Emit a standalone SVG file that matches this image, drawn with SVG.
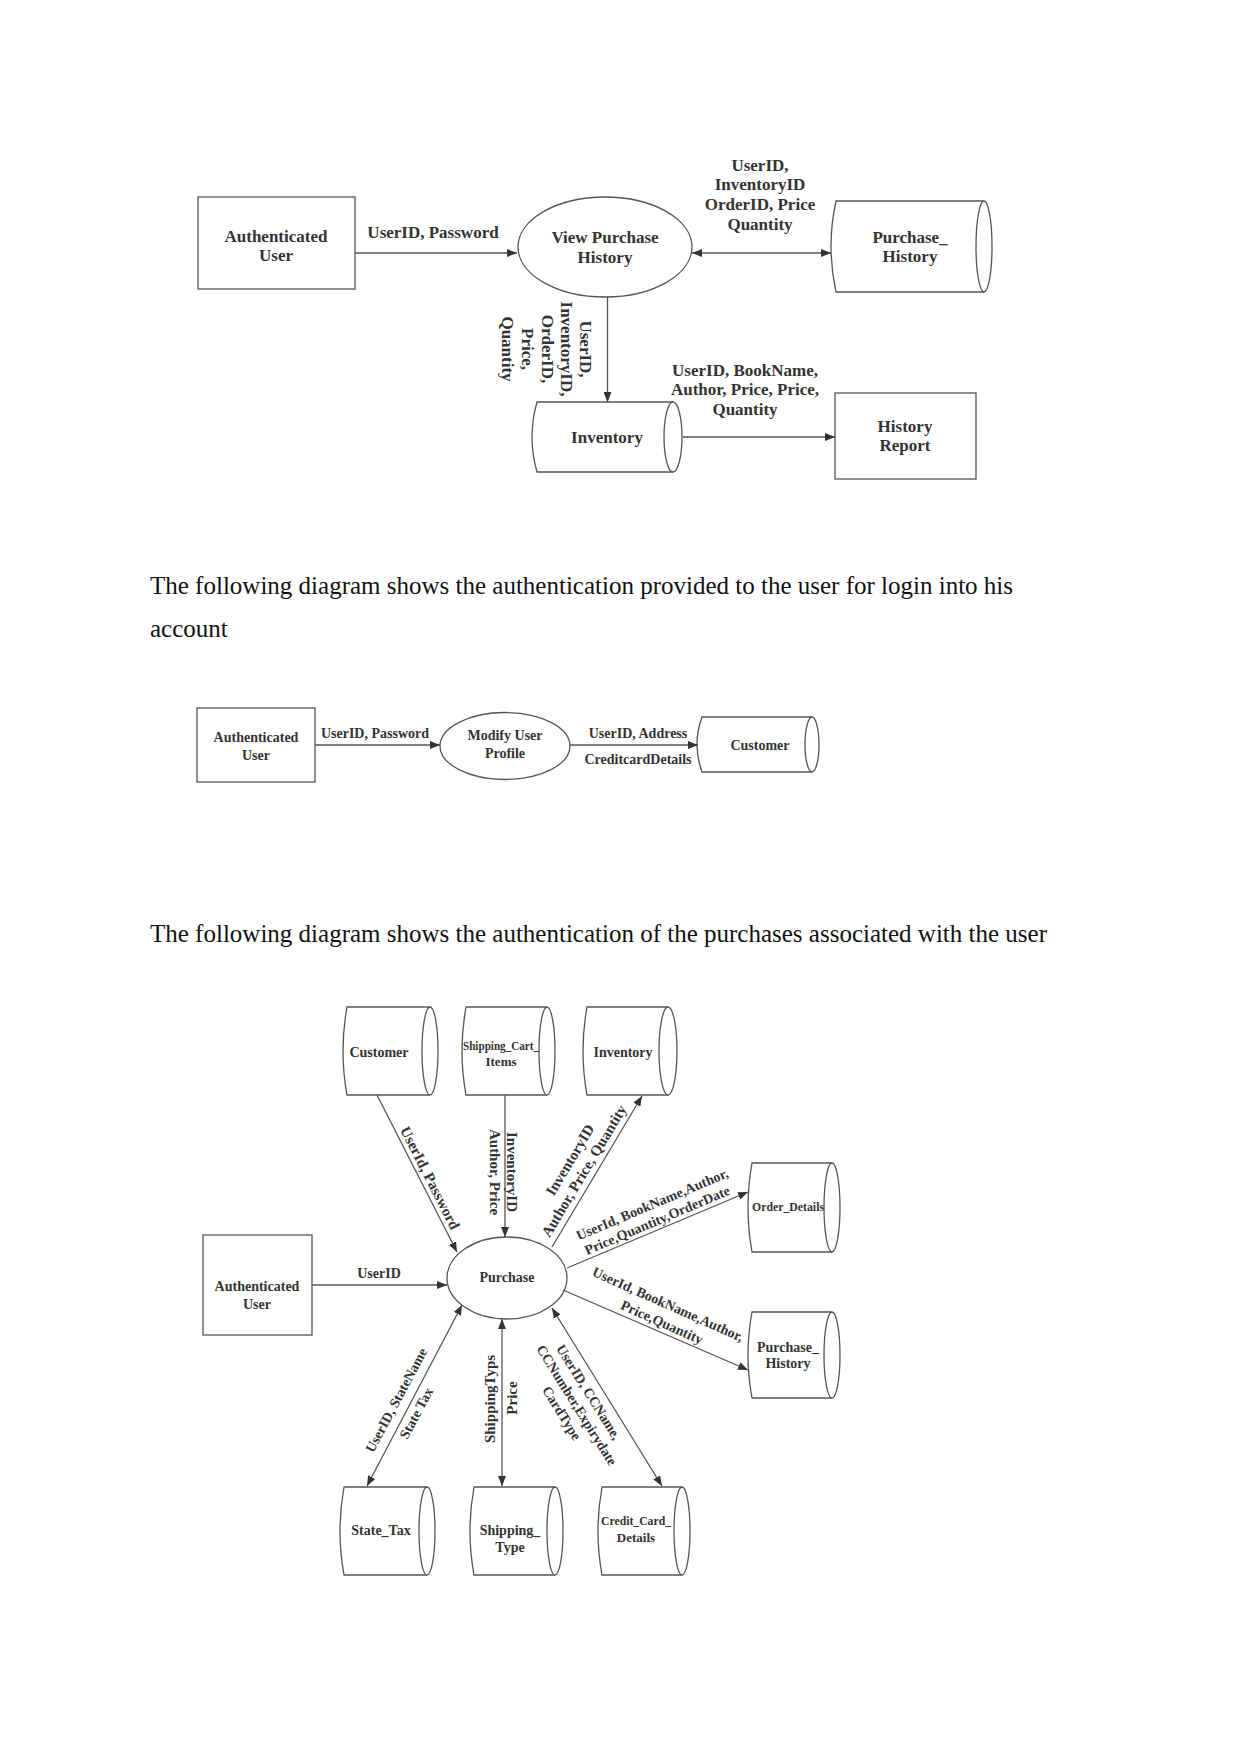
<svg xmlns="http://www.w3.org/2000/svg" width="1241" height="1754" viewBox="0 0 1241 1754">
<defs>
<style>
.bg{fill:#fff}
.n{fill:#fff;stroke:#555;stroke-width:1.3}
.c{fill:none;stroke:#555;stroke-width:1.3}
.t{font-family:"Liberation Serif","Times New Roman",serif;font-weight:bold;fill:#333;text-anchor:middle}
.f17{font-size:17px}
.f14{font-size:14px}
.f15{font-size:15px}
.f12{font-size:12px}
.f13{font-size:13px}
.p{font-family:"Liberation Serif","Times New Roman",serif;font-size:25px;fill:#111}
</style>
<marker id="ah" viewBox="0 0 10 8" refX="10" refY="4" markerWidth="10" markerHeight="8" markerUnits="userSpaceOnUse" orient="auto-start-reverse">
<path d="M0,0 L10,4 L0,8 z" fill="#333"/>
</marker>
</defs>
<rect class="bg" x="0" y="0" width="1241" height="1754"/>

<!-- Diagram 1 -->
<g id="d1-auth">
<rect class="n" x="198" y="197" width="157" height="92"/>
<text class="t f17" x="276" y="242">Authenticated</text>
<text class="t f17" x="276" y="261">User</text>
</g>
<g id="d1-view">
<ellipse class="n" cx="605" cy="247" rx="87" ry="50"/>
<text class="t f17" x="605" y="243">View Purchase</text>
<text class="t f17" x="605" y="263">History</text>
</g>
<g id="d1-purchase-history">
<path class="n" d="M984,201 H836 Q826,246.5 836,292 H984"/>
<ellipse class="n" cx="984" cy="246.5" rx="8" ry="45.5"/>
<text class="t f17" x="910" y="243">Purchase_</text>
<text class="t f17" x="910" y="262">History</text>
</g>
<g id="d1-inventory">
<path class="n" d="M673,402 H537 Q527,437 537,472 H673"/>
<ellipse class="n" cx="673" cy="437" rx="9" ry="35"/>
<text class="t f17" x="607" y="443">Inventory</text>
</g>
<g id="d1-report">
<rect class="n" x="835" y="393" width="141" height="86"/>
<text class="t f17" x="905" y="432">History</text>
<text class="t f17" x="905" y="451">Report</text>
</g>
<g id="d1-connectors">
<line class="c" x1="355" y1="253" x2="517" y2="253" marker-end="url(#ah)"/>
<line class="c" x1="692" y1="253" x2="831" y2="253" marker-start="url(#ah)" marker-end="url(#ah)"/>
<line class="c" x1="607.5" y1="297" x2="607.5" y2="402" marker-end="url(#ah)"/>
<line class="c" x1="683" y1="437" x2="835" y2="437" marker-end="url(#ah)"/>
<text class="t f17" x="433" y="238">UserID, Password</text>
<text class="t f17" x="760" y="171">UserID,</text>
<text class="t f17" x="760" y="190">InventoryID</text>
<text class="t f17" x="760" y="210">OrderID, Price</text>
<text class="t f17" x="760" y="230">Quantity</text>
<text class="t f17" transform="translate(580,349) rotate(90)" x="0" y="0">UserID,</text>
<text class="t f17" transform="translate(561,349) rotate(90)" x="0" y="0">InventoryID,</text>
<text class="t f17" transform="translate(542,349) rotate(90)" x="0" y="0">OrderID,</text>
<text class="t f17" transform="translate(522,349) rotate(90)" x="0" y="0">Price,</text>
<text class="t f17" transform="translate(502,349) rotate(90)" x="0" y="0">Quantity</text>
<text class="t f17" x="745" y="376">UserID, BookName,</text>
<text class="t f17" x="745" y="395">Author, Price, Price,</text>
<text class="t f17" x="745" y="415">Quantity</text>
</g>

<text class="p" x="150" y="594">The following diagram shows the authentication provided to the user for login into his</text>
<text class="p" x="150" y="637">account</text>

<!-- Diagram 2 -->
<g id="d2-auth">
<rect class="n" x="197" y="708" width="118" height="74"/>
<text class="t f14" x="256" y="742">Authenticated</text>
<text class="t f14" x="256" y="760">User</text>
</g>
<g id="d2-modify">
<ellipse class="n" cx="505" cy="746" rx="65" ry="33.5"/>
<text class="t f14" x="505" y="740">Modify User</text>
<text class="t f14" x="505" y="758">Profile</text>
</g>
<g id="d2-customer">
<path class="n" d="M812,717 H702 Q692,744.5 702,772 H812"/>
<ellipse class="n" cx="812" cy="744.5" rx="7" ry="27.5"/>
<text class="t f14" x="760" y="750">Customer</text>
</g>
<g id="d2-connectors">
<line class="c" x1="315" y1="745" x2="440" y2="745" marker-end="url(#ah)"/>
<line class="c" x1="570" y1="745" x2="698" y2="745" marker-end="url(#ah)"/>
<text class="t f14" x="375" y="738">UserID, Password</text>
<text class="t f14" x="638" y="738">UserID, Address</text>
<text class="t f14" x="638" y="764">CreditcardDetails</text>
</g>

<text class="p" x="150" y="942">The following diagram shows the authentication of the purchases associated with the user</text>

<!-- Diagram 3 -->
<g id="d3-customer">
<path class="n" d="M430,1007 H347 Q339,1051 347,1095 H430"/>
<ellipse class="n" cx="430" cy="1051" rx="8" ry="44"/>
<text class="t f14" x="379" y="1057">Customer</text>
</g>
<g id="d3-shipping-cart">
<path class="n" d="M547,1007 H466 Q458,1051 466,1095 H547"/>
<ellipse class="n" cx="547" cy="1051" rx="8" ry="44"/>
<text class="t f13" x="501" y="1050" textLength="76" lengthAdjust="spacingAndGlyphs">Shipping_Cart_</text>
<text class="t f13" x="501" y="1066">Items</text>
</g>
<g id="d3-inventory">
<path class="n" d="M668,1007 H587 Q579,1051 587,1095 H668"/>
<ellipse class="n" cx="668" cy="1051" rx="9" ry="44"/>
<text class="t f14" x="623" y="1057">Inventory</text>
</g>
<g id="d3-order-details">
<path class="n" d="M832,1163 H752 Q744,1207.5 752,1252 H832"/>
<ellipse class="n" cx="832" cy="1207.5" rx="8" ry="44.5"/>
<text class="t f13" x="788" y="1211" textLength="72" lengthAdjust="spacingAndGlyphs">Order_Details</text>
</g>
<g id="d3-purchase-history">
<path class="n" d="M832,1312 H752 Q744,1355 752,1398 H832"/>
<ellipse class="n" cx="832" cy="1355" rx="8" ry="43"/>
<text class="t f14" x="788" y="1352">Purchase_</text>
<text class="t f14" x="788" y="1368">History</text>
</g>
<g id="d3-state-tax">
<path class="n" d="M427,1487 H344 Q336,1531 344,1575 H427"/>
<ellipse class="n" cx="427" cy="1531" rx="8" ry="44"/>
<text class="t f14" x="381" y="1535">State_Tax</text>
</g>
<g id="d3-shipping-type">
<path class="n" d="M555,1487 H474 Q466,1531 474,1575 H555"/>
<ellipse class="n" cx="555" cy="1531" rx="8" ry="44"/>
<text class="t f14" x="510" y="1535">Shipping_</text>
<text class="t f14" x="510" y="1552">Type</text>
</g>
<g id="d3-credit-card">
<path class="n" d="M682,1487 H602 Q594,1531 602,1575 H682"/>
<ellipse class="n" cx="682" cy="1531" rx="8" ry="44"/>
<text class="t f13" x="636" y="1525" textLength="70" lengthAdjust="spacingAndGlyphs">Credit_Card_</text>
<text class="t f13" x="636" y="1542">Details</text>
</g>
<g id="d3-auth">
<rect class="n" x="203" y="1235" width="109" height="100"/>
<text class="t f14" x="257" y="1291">Authenticated</text>
<text class="t f14" x="257" y="1309">User</text>
</g>
<g id="d3-purchase">
<ellipse class="n" cx="507" cy="1278" rx="60" ry="41"/>
<text class="t f14" x="507" y="1282">Purchase</text>
</g>
<g id="d3-connectors">
<line class="c" x1="312" y1="1285" x2="447" y2="1285" marker-end="url(#ah)"/>
<line class="c" x1="377" y1="1095" x2="457" y2="1252" marker-end="url(#ah)"/>
<line class="c" x1="505" y1="1095" x2="505" y2="1237" marker-end="url(#ah)"/>
<line class="c" x1="552" y1="1247" x2="642" y2="1096" marker-end="url(#ah)"/>
<line class="c" x1="567" y1="1268" x2="748" y2="1192" marker-end="url(#ah)"/>
<line class="c" x1="563" y1="1290" x2="748" y2="1370" marker-end="url(#ah)"/>
<line class="c" x1="552" y1="1308" x2="662" y2="1486" marker-start="url(#ah)" marker-end="url(#ah)"/>
<line class="c" x1="502" y1="1319" x2="502" y2="1486" marker-start="url(#ah)" marker-end="url(#ah)"/>
<line class="c" x1="462" y1="1305" x2="367" y2="1486" marker-start="url(#ah)" marker-end="url(#ah)"/>
<text class="t f14" x="379" y="1278">UserID</text>
<text class="t f15" transform="translate(430,1178) rotate(63)" x="0" y="5">UserId, Password</text>
<text class="t f15" transform="translate(512,1172) rotate(90)" x="0" y="5">InventoryID</text>
<text class="t f15" transform="translate(495,1172) rotate(90)" x="0" y="5">Author, Price</text>
<text class="t f15" transform="translate(570,1160) rotate(-59)" x="0" y="5">InventoryID</text>
<text class="t f15" transform="translate(584,1171) rotate(-59)" x="0" y="5">Author, Price, Quantity</text>
<text class="t f14" transform="translate(652,1204) rotate(-23)" x="0" y="5">UserId, BookName,Author,</text>
<text class="t f14" transform="translate(657,1220) rotate(-23)" x="0" y="5">Price,Quantity,OrderDate</text>
<text class="t f14" transform="translate(668,1304) rotate(24)" x="0" y="5">UserId, BookName,Author,</text>
<text class="t f14" transform="translate(662,1322) rotate(24)" x="0" y="5">Price,Quantity</text>
<text class="t f14" transform="translate(589,1392) rotate(58)" x="0" y="5">UserID, CCName,</text>
<text class="t f14" transform="translate(577,1405) rotate(58)" x="0" y="5">CCNumber,Expirydate</text>
<text class="t f14" transform="translate(562,1413) rotate(58)" x="0" y="5">CardType</text>
<text class="t f15" transform="translate(490,1399) rotate(-90)" x="0" y="5">ShippingTyps</text>
<text class="t f15" transform="translate(512,1398) rotate(-90)" x="0" y="5">Price</text>
<text class="t f14" transform="translate(396,1400) rotate(-62)" x="0" y="5">UserID, StateName</text>
<text class="t f14" transform="translate(416,1413) rotate(-62)" x="0" y="5">State Tax</text>
</g>
</svg>
